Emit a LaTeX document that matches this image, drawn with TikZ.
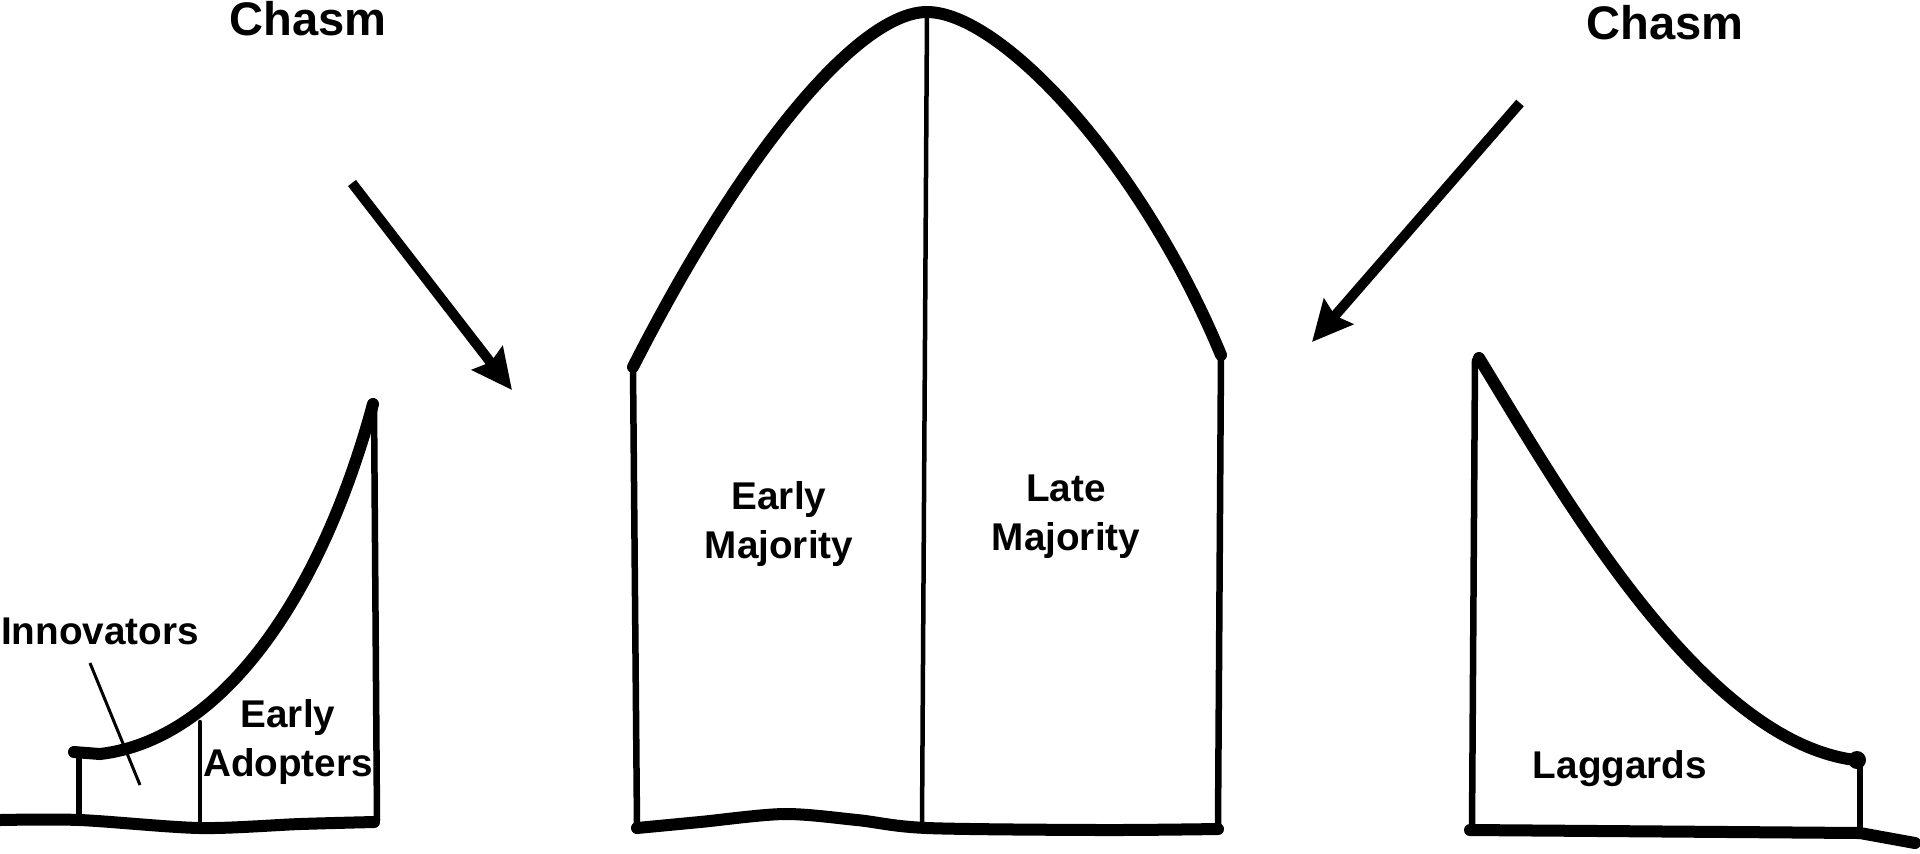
\documentclass[tikz,border=0pt]{standalone}
\usepackage{fontspec}
\setmainfont{Liberation Sans}
\usetikzlibrary{arrows.meta}
\begin{document}
\begin{tikzpicture}[x=0.01cm,y=-0.01cm,
  heavy/.style={line width=0.12cm, line cap=round, line join=round},
  medium/.style={line width=0.065cm, line cap=round, line join=round},
  thinline/.style={line width=0.045cm, line cap=round},
  pointer/.style={line width=0.03cm},
  lab/.style={font=\fontsize{11}{14}\selectfont\bfseries, align=center, inner sep=0pt},
  chasmlab/.style={font=\fontsize{13.4}{16}\selectfont\bfseries, inner sep=0pt, anchor=base},
  chasmarrow/.style={line width=0.1cm, -{Stealth[length=0.4cm,width=0.38cm,inset=0.05cm]}}]

\fill[white] (0,0) rectangle (1920,853);
\useasboundingbox (0,0) rectangle (1920,853);

% ---------- left group: innovators + early adopters
\draw[heavy] plot[smooth, tension=0.5] coordinates {(0,820) (80,820) (200,828) (300,824) (374,822)};
\draw[medium] (79,820) -- (79,751);
\draw[heavy] (74,752) -- (100,754) .. controls (220,740) and (320,600) .. (373,404);
\draw[medium] (374,404) -- (377,820);
\draw[thinline] (200,722) -- (200,828);
\coordinate (ptrS) at (90,663);
\coordinate (ptrE) at (140,785);
\draw[pointer] (ptrS) -- (ptrE);

\node[lab] (innov) at (100,631) {Innovators};
\node[lab] (eadopt) at (288,742) {Early\\Adopters};

% ---------- middle group: early + late majority
\draw[heavy] (633,367) .. controls (745,147) and (860,12) .. (927,12)
             .. controls (1000,12) and (1140,160) .. (1221,355);
\draw[medium] (633,367) -- (637,826);
\draw[medium] (1221,355) -- (1218,826);
\draw[thinline] (927,14) -- (922,826);
\draw[heavy] plot[smooth, tension=0.5] coordinates {(637,828) (700,822) (784,814) (857,820) (927,828) (1102,830) (1218,829)};

\node[lab] (emaj) at (779,524) {Early\\Majority};
\node[lab] (lmaj) at (1066,517) {Late\\Majority};

% ---------- right group: laggards
\draw[medium] (1475,360) -- (1472,830);
\draw[heavy] (1479,358) .. controls (1560,490) and (1700,740) .. (1855,760);
\fill (1857,760) circle[radius=0.09cm];
\draw[medium] (1860,760) -- (1860,832);
\draw[heavy] (1470,830) -- (1860,833) -- (1915,843);

\node[lab] (lag) at (1620,769) {Laggards};

% ---------- chasm labels and arrows
\node[chasmlab] (chasmL) at (308,35) {Chasm};
\node[chasmlab] (chasmR) at (1665,39) {Chasm};

\coordinate (aLs) at (352,183);
\coordinate (aLe) at (512,390);
\draw[chasmarrow] (aLs) -- (aLe);
\coordinate (aRs) at (1520,103);
\coordinate (aRe) at (1312,342);
\draw[chasmarrow] (aRs) -- (aRe);
\end{tikzpicture}
\end{document}
